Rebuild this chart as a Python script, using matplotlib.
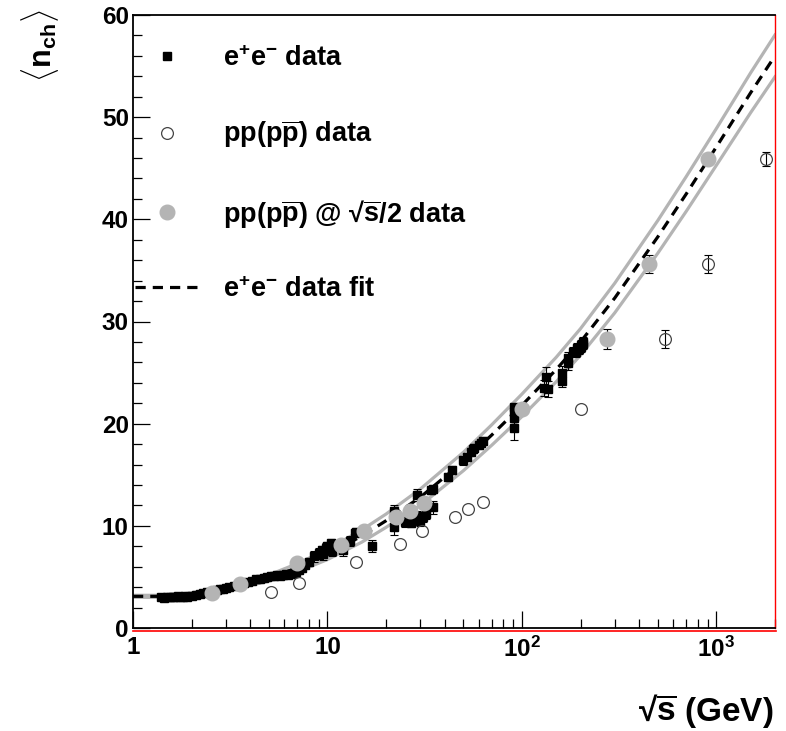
import matplotlib
matplotlib.use("Agg")
import matplotlib.pyplot as plt
from matplotlib.lines import Line2D
from matplotlib.ticker import FixedLocator, LogLocator, NullFormatter, MultipleLocator

plt.rcParams["font.family"] = ["Liberation Sans", "DejaVu Sans"]
plt.rcParams["font.weight"] = "bold"
plt.rcParams["mathtext.fontset"] = "custom"
plt.rcParams["mathtext.rm"] = "Liberation Sans:bold"
plt.rcParams["mathtext.bf"] = "Liberation Sans:bold"
plt.rcParams["mathtext.it"] = "Liberation Sans:bold"
plt.rcParams["mathtext.sf"] = "Liberation Sans:bold"

# e+e- data (sqrt(s) in GeV, mean charged multiplicity, error)
ee_x = [1.40, 1.45, 1.50, 1.55, 1.60, 1.65, 1.70, 1.75, 1.80, 1.85, 1.90, 2.00,
        2.10, 2.20, 2.30, 2.40, 2.50, 2.60, 2.70, 2.80, 2.90, 3.00, 3.10, 3.30,
        3.50, 3.70, 3.90, 4.10, 4.30, 4.50, 4.70, 4.90, 5.10, 5.30, 5.50, 5.70,
        5.90, 6.10, 6.30, 6.50, 6.70, 6.90, 7.10, 7.40, 7.70, 8.00, 8.50, 9.00,
        9.40, 9.50, 9.80, 10.0, 10.4, 10.5, 12.0, 13.0, 13.9, 14.0, 17.0, 22.0,
        22.0, 25.0, 27.0, 28.0, 29.0, 29.0, 30.0, 31.0, 32.0, 34.0, 35.0, 35.0,
        41.5, 43.6, 50.0, 52.0, 55.0, 56.0, 57.0, 60.0, 61.4, 63.0, 91.2, 91.2,
        91.2, 91.2, 130, 133, 136, 161, 161, 172, 172, 183, 189, 192, 196, 200,
        202, 205, 207]
ee_y = [3.00, 2.95, 3.05, 3.00, 3.05, 3.00, 3.10, 3.05, 3.00, 3.10, 3.05, 3.15,
        3.20, 3.30, 3.40, 3.50, 3.45, 3.60, 3.70, 3.80, 3.85, 3.90, 4.00, 4.10,
        4.30, 4.40, 4.55, 4.60, 4.80, 4.75, 4.90, 5.00, 5.10, 5.05, 5.15, 5.10,
        5.20, 5.25, 5.20, 5.30, 5.35, 5.50, 5.70, 5.90, 6.20, 6.50, 7.00, 7.30,
        7.60, 7.20, 7.80, 8.00, 8.30, 7.50, 7.60, 8.50, 9.30, 9.40, 8.00, 11.5,
        9.90, 10.4, 10.3, 10.8, 13.0, 11.0, 10.5, 10.9, 11.2, 13.5, 11.8, 13.6,
        14.8, 15.5, 16.4, 16.7, 17.2, 17.5, 17.6, 17.9, 18.1, 18.3, 21.6, 21.1,
        20.6, 19.6, 23.5, 24.6, 23.4, 24.2, 25.0, 25.9, 26.4, 27.0, 27.0, 27.4,
        27.3, 27.5, 27.7, 27.8, 28.0]
ee_err = [0.1, 0.1, 0.1, 0.1, 0.1, 0.1, 0.1, 0.1, 0.1, 0.1, 0.1, 0.1,
          0.1, 0.1, 0.1, 0.1, 0.1, 0.1, 0.1, 0.1, 0.1, 0.1, 0.1, 0.2,
          0.2, 0.2, 0.2, 0.2, 0.2, 0.2, 0.2, 0.2, 0.2, 0.2, 0.2, 0.2,
          0.2, 0.2, 0.2, 0.2, 0.2, 0.2, 0.2, 0.3, 0.3, 0.4, 0.5, 0.5,
          0.4, 0.5, 0.5, 0.4, 0.4, 0.5, 0.6, 0.5, 0.4, 0.4, 0.6, 0.5,
          0.8, 0.5, 0.4, 0.4, 0.6, 0.5, 0.5, 0.5, 0.5, 0.4, 0.6, 0.4,
          0.4, 0.4, 0.4, 0.4, 0.4, 0.4, 0.4, 0.4, 0.4, 0.4, 0.3, 0.3,
          0.3, 1.2, 0.8, 0.9, 0.8, 0.6, 0.6, 0.6, 0.6, 0.5, 0.5, 0.5,
          0.5, 0.5, 0.5, 0.5, 0.5]

# pp(pbar p) data at sqrt(s)
pp_x = [5.1, 7.1, 14.0, 23.6, 30.7, 45.0, 53.0, 63.0, 200, 546, 900, 1800]
pp_y = [3.5, 4.4, 6.5, 8.2, 9.5, 10.9, 11.6, 12.3, 21.4, 28.3, 35.6, 45.9]
pp_err = [0, 0, 0, 0, 0, 0, 0, 0, 0, 0.9, 0.9, 0.7]

# pp(pbar p) data plotted at sqrt(s)/2
pph_x = [2.56, 3.55, 7.0, 11.8, 15.4, 22.5, 26.5, 31.5, 100, 273, 450, 900]
pph_y = [3.4, 4.3, 6.4, 8.1, 9.5, 10.9, 11.5, 12.2, 21.4, 28.3, 35.6, 45.9]
pph_err = [0, 0, 0, 0, 0, 0, 0, 0, 0, 1.0, 0.9, 0.5]

# e+e- fit and its band
fit_x = [1, 1.5, 2, 3, 5, 7, 10, 15, 20, 30, 50, 70, 100, 150, 200, 300,
         500, 700, 1000, 1500, 2000]
fit_y = [3.1, 3.1, 3.3, 3.8, 4.9, 5.9, 7.2, 9.0, 10.5, 12.8, 16.3, 18.9,
         21.8, 25.3, 28.0, 32.3, 38.3, 42.5, 47.1, 52.4, 56.0]
fit_hi = [3.2, 3.2, 3.45, 4.0, 5.2, 6.3, 7.7, 9.6, 11.15, 13.6, 17.2, 19.9,
          22.9, 26.5, 29.3, 33.75, 39.9, 44.2, 48.9, 54.35, 58.05]
fit_lo = [3.0, 3.0, 3.15, 3.6, 4.6, 5.5, 6.7, 8.4, 9.85, 12.0, 15.4, 17.9,
          20.7, 24.1, 26.7, 30.85, 36.7, 40.8, 45.3, 50.45, 53.95]

band_gray = "#b4b4b4"
dash = (0, (3.2, 2.2))


def with_errors(xs, ys, errs):
    # only the points that carry a visible error bar
    keep = [i for i, e in enumerate(errs) if e > 0]
    return [xs[i] for i in keep], [ys[i] for i in keep], [errs[i] for i in keep]


fig = plt.figure(figsize=(7.86, 7.31), dpi=100)
ax = fig.add_axes([133 / 786, 1 - 628 / 731, 642 / 786, 613 / 731])

ax.plot(fit_x, fit_hi, color=band_gray, lw=2.3, zorder=2)
ax.plot(fit_x, fit_lo, color=band_gray, lw=2.3, zorder=2)
ax.plot(fit_x, fit_y, color="black", lw=2.3, ls=dash, zorder=3)

ax.errorbar(ee_x, ee_y, yerr=ee_err, fmt="s", ms=5.5, color="black",
            ecolor="black", elinewidth=0.8, capsize=3, capthick=0.8, zorder=4)

px, py, pe = with_errors(pp_x, pp_y, pp_err)
ax.errorbar(px, py, yerr=pe, fmt="none", ecolor="black", elinewidth=0.8,
            capsize=3, capthick=0.8, zorder=5)
ax.plot(pp_x, pp_y, ls="none", marker="o", ms=8.5, mfc="none", mec="#444444",
        mew=0.9, zorder=5)

hx, hy, he = with_errors(pph_x, pph_y, pph_err)
ax.errorbar(hx, hy, yerr=he, fmt="none", ecolor="black", elinewidth=0.8,
            capsize=3, capthick=0.8, zorder=6)
ax.plot(pph_x, pph_y, ls="none", marker="o", ms=10.5, color=band_gray, zorder=6)

ax.set_xscale("log")
ax.set_xlim(1, 2000)
ax.set_ylim(0, 60)
ax.xaxis.set_major_locator(FixedLocator([1, 10, 100, 1000]))
ax.set_xticklabels(["1", "10", "10$^{2}$", "10$^{3}$"])
ax.xaxis.set_minor_locator(LogLocator(base=10, subs=range(2, 10)))
ax.xaxis.set_minor_formatter(NullFormatter())
ax.yaxis.set_major_locator(MultipleLocator(10))
ax.yaxis.set_minor_locator(MultipleLocator(2))

ax.tick_params(which="both", direction="in", top=False, right=False,
               labelsize=17.5, width=0.9)
ax.tick_params(which="major", length=12.3)
ax.tick_params(which="minor", length=6.5)
ax.tick_params(axis="x", pad=6)
ax.tick_params(axis="y", pad=3)
for lab in ax.get_xticklabels() + ax.get_yticklabels():
    lab.set_fontweight("bold")

for side in ["left", "top", "bottom"]:
    ax.spines[side].set_color("black")
    ax.spines[side].set_linewidth(1.3)
ax.spines["right"].set_color("red")
ax.spines["right"].set_linewidth(1.0)
fig.add_artist(Line2D([133 / 786, 776 / 786], [1 - 630.5 / 731, 1 - 630.5 / 731],
                      color="red", lw=1.2))

handles = [
    Line2D([], [], ls="none", marker="s", ms=5.5, color="black"),
    Line2D([], [], ls="none", marker="o", ms=8.5, mfc="none", mec="#444444", mew=0.9),
    Line2D([], [], ls="none", marker="o", ms=10.5, color=band_gray),
    Line2D([], [], color="black", lw=2.3, ls=dash),
]
labels = [
    "e$^{+}$e$^{-}$ data",
    r"pp(p$\overline{\rm p}$) data",
    r"pp(p$\overline{\rm p}$) @ √$\overline{\rm s}$/2 data",
    "e$^{+}$e$^{-}$ data fit",
]
ax.legend(handles, labels, loc="upper left", bbox_to_anchor=(0.003, 0.950),
          frameon=False, fontsize=19.5, handlelength=2.4, handletextpad=0.85,
          labelspacing=1.74, borderpad=0, borderaxespad=0)

fig.text(773 / 786, 1 - 711 / 731, r"√$\overline{\rm s}$ (GeV)", ha="right",
         va="center", fontsize=24, fontweight="bold")
fig.text(40 / 786, 1 - 46 / 731, r"$\langle$n$_{\rm ch}$$\rangle$", rotation=90,
         ha="center", va="center", fontsize=22, fontweight="bold")

fig.savefig("out.png", dpi=100)
